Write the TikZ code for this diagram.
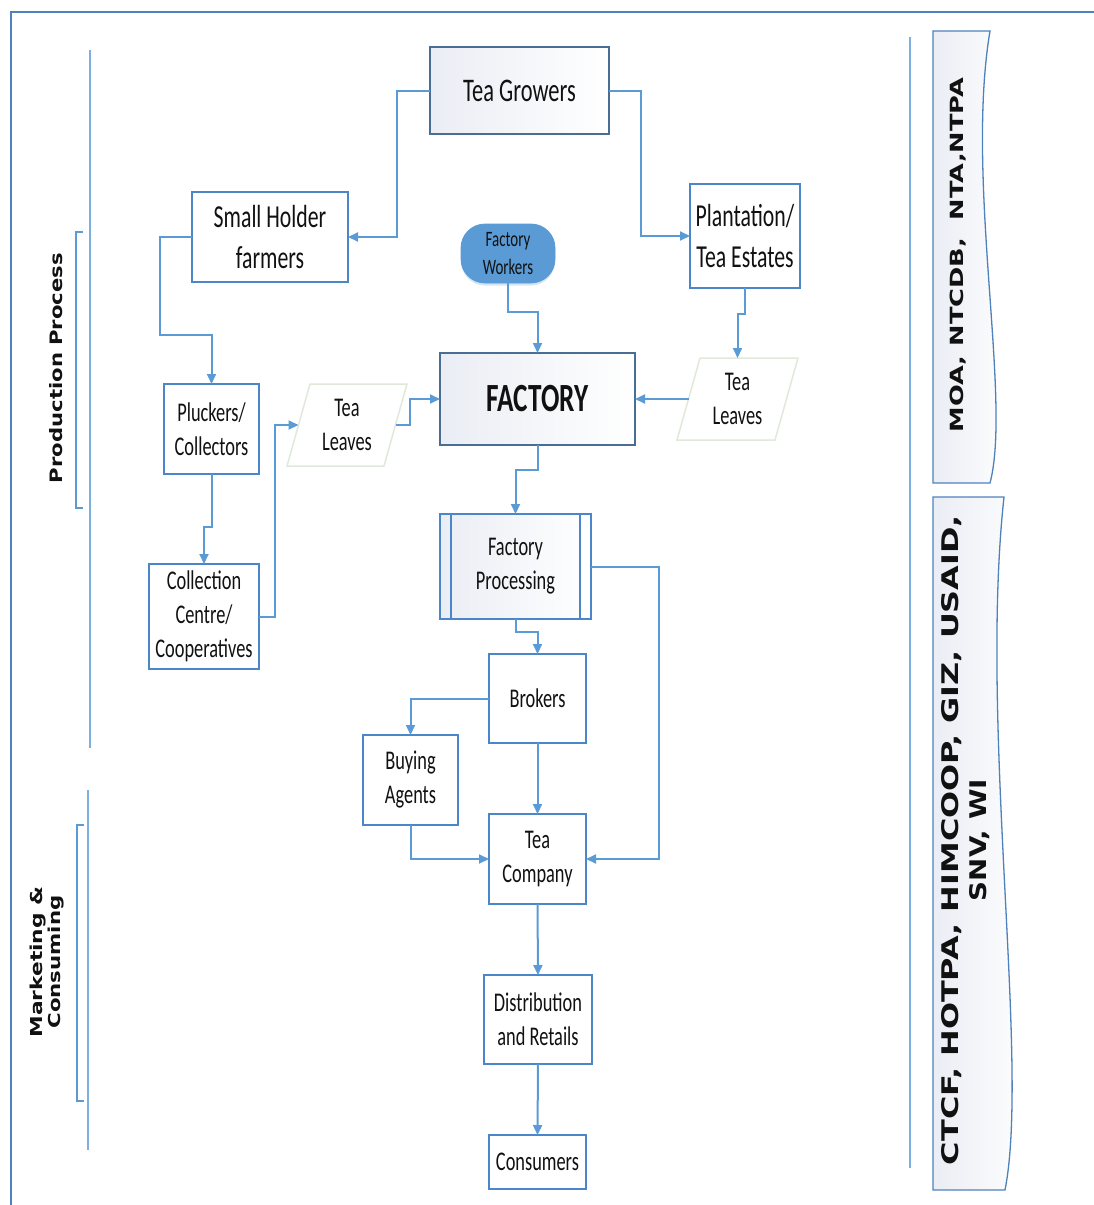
\documentclass[tikz,border=0pt]{standalone}
\usepackage{fontspec}
\usepackage{graphicx}
\setmainfont{Carlito}[FakeStretch=0.68]
\newfontfamily\labfont{DejaVu Sans}
\usetikzlibrary{arrows.meta,calc,shadows}

\definecolor{conn}{HTML}{5B9BD5}
\definecolor{boxblue}{HTML}{4A86C8}
\definecolor{boxdark}{HTML}{4A6D94}
\definecolor{frameblue}{HTML}{4F81BD}
\definecolor{sideblue}{HTML}{7DB0E0}
\definecolor{leafline}{HTML}{E0E9DA}
\definecolor{shadeL}{HTML}{EAEDF4}
\definecolor{txt}{HTML}{111111}
\definecolor{pill}{HTML}{5B9BD5}

\tikzset{
  conn/.style={draw=conn, line width=2pt, -{Triangle[length=10pt,width=9pt]}},
  box/.style={draw=boxblue, line width=2pt, fill=white, inner sep=0pt, outer sep=0pt,
              align=center, text=txt, font=\fontsize{27}{34}\selectfont},
  gbox/.style={box, draw=boxdark, left color=shadeL, right color=white},
  bigbox/.style={box, font=\fontsize{32}{41}\selectfont},
  leafbox/.style={inner sep=0pt, outer sep=0pt, align=center, text=txt,
              font=\fontsize{27}{34}\selectfont},
  leafedge/.style={draw=leafline, line width=1.5pt, fill=white},
  banner/.style={draw=frameblue, line width=1.3pt, left color=shadeL, right color=white},
  sideline/.style={draw=sideblue, line width=2pt},
  bracket/.style={draw=conn, line width=2pt},
  lab/.style={text=txt, inner sep=0pt, rotate=90, align=center}
}

\begin{document}
\begin{tikzpicture}[x=1pt,y=-1pt]
\useasboundingbox (0,0) rectangle (1094,1205);

% outer frame
\draw[draw=frameblue, line width=2.5pt] (11,1205) -- (11,12) -- (1094,12);

% section markers on the left
\draw[sideline] (90,50) -- (90,748);
\draw[sideline] (88,790) -- (88,1150);
\draw[bracket] (83,232) -- (76,232) -- (76,508) -- (83,508);
\draw[bracket] (84,825) -- (77,825) -- (77,1101) -- (84,1101);
\node[lab] (prodlbl) at (56.5,368) {\resizebox{230pt}{13pt}{\labfont\bfseries Production Process}};
\node[lab, font=\fontsize{16}{18}\selectfont] (marklbl) at (47,962)
  {\resizebox{151pt}{12.5pt}{\labfont\bfseries Marketing \&}\\
   \resizebox{133pt}{12.5pt}{\labfont\bfseries Consuming}};

% institutions on the right
\draw[draw=sideblue, line width=1.5pt] (910,37) -- (910,1168);
\draw[banner] (933,31) -- (990,31) .. controls (965,180) and (1012,400) .. (990,483)
  -- (933,483) -- cycle;
\draw[banner] (933,497) -- (1004,497) .. controls (979,726) and (1030,1063) .. (1005,1190)
  -- (933,1190) -- cycle;
\node[lab] (gov) at (958.5,255) {\resizebox{354pt}{13.5pt}{\labfont\bfseries MOA, NTCDB,~~NTA,NTPA}};
\node[lab, font=\fontsize{20}{28}\selectfont] (ngo) at (966,840)
  {\resizebox{650pt}{17pt}{\labfont\bfseries CTCF, HOTPA, HIMCOOP, GIZ, USAID,}\\
   \resizebox{122pt}{17pt}{\labfont\bfseries SNV, WI}};

% production chain
\node[gbox, font=\fontsize{33}{41}\selectfont, minimum width=179pt, minimum height=87pt] (grow) at (519.5,90.5) {Tea Growers};
\node[bigbox, minimum width=156pt, minimum height=90pt] (small) at (270,237) {Small Holder\\farmers};
\node[bigbox, minimum width=110pt, minimum height=104pt] (plant) at (745,236) {Plantation/\\Tea Estates};
\node[box, draw=pill, line width=0.8pt, fill=pill, rounded corners=24pt, minimum width=94pt, minimum height=59pt,
      font=\fontsize{22}{28}\selectfont,
      drop shadow={shadow xshift=0pt, shadow yshift=-2.5pt, opacity=0.25, fill=conn}] (workers) at (508,253.5) {Factory\\Workers};
\node[gbox, font=\fontsize{40}{48}\selectfont\bfseries, minimum width=195pt, minimum height=92pt] (factory) at (537.5,399) {FACTORY};

\node[leafbox, minimum width=120pt, minimum height=82pt] (tl1) at (347,425) {};
\draw[leafedge] (tl1.south west) -- ($(tl1.north west)+(23,0)$) -- (tl1.north east) -- ($(tl1.south east)+(-23,0)$) -- cycle;
\node[leafbox] at (tl1.center) {Tea\\Leaves};
\node[leafbox, minimum width=121pt, minimum height=82pt] (tl2) at (737.5,399) {};
\draw[leafedge] (tl2.south west) -- ($(tl2.north west)+(23,0)$) -- (tl2.north east) -- ($(tl2.south east)+(-23,0)$) -- cycle;
\node[leafbox] at (tl2.center) {Tea\\Leaves};
\coordinate (tl1w) at ($(tl1.west)+(11.5,0)$);
\coordinate (tl1e) at ($(tl1.east)+(-11.5,0)$);
\coordinate (tl2w) at ($(tl2.west)+(11.5,0)$);

\node[box, minimum width=95pt, minimum height=90pt] (pluck) at (211.5,429) {Pluckers/\\Collectors};
\node[box, minimum width=110pt, minimum height=105pt] (coll) at (204,616.5) {Collection\\Centre/\\Cooperatives};

\node[gbox, draw=boxblue, minimum width=151pt, minimum height=105pt] (proc) at (515.5,566.5) {Factory\\Processing};
\draw[draw=boxblue, line width=2pt] ([xshift=11pt]proc.north west) -- ([xshift=11pt]proc.south west);
\draw[draw=boxblue, line width=2pt] ([xshift=-11pt]proc.north east) -- ([xshift=-11pt]proc.south east);

% marketing chain
\node[box, minimum width=97pt, minimum height=89pt] (brok) at (537.5,698.5) {Brokers};
\node[box, minimum width=95pt, minimum height=90pt] (buy) at (410.5,780) {Buying\\Agents};
\node[box, minimum width=97pt, minimum height=90pt] (comp) at (537.5,859) {Tea\\Company};
\node[box, minimum width=108pt, minimum height=89pt] (dist) at (538,1019.5) {Distribution\\and Retails};
\node[box, minimum width=97pt, minimum height=54pt] (cons) at (537.5,1162) {Consumers};

% connectors
\draw[conn] (grow.west) -- ++(-33,0) |- (small.east);
\draw[conn] (grow.east) -- ++(32,0) |- (plant.west);
\draw[conn] (small.west) -- ++(-32,0) -- ++(0,98) -| (pluck.north);
\draw[conn] (pluck.south) -- ++(0,53) -| (coll.north);
\draw[conn] (coll.east) -- ++(16,0) |- (tl1w);
\draw[conn] (tl1e) -- ++(14,0) |- (factory.west);
\draw[conn] (workers.south) -- ++(0,29) -| (factory.north);
\draw[conn] (plant.south) -- ++(0,26) -| (tl2.north);
\draw[conn] (tl2w) -- (factory.east);
\draw[conn] (factory.south) -- ++(0,25) -| (proc.north);
\draw[conn] (proc.south) -- ++(0,13) -| (brok.north);
\draw[conn] (proc.east) -- ++(68,0) |- (comp.east);
\draw[conn] (brok.west) -| (buy.north);
\draw[conn] (brok.south) -- (comp.north);
\draw[conn] (buy.south) |- (comp.west);
\draw[conn] (comp.south) -- (dist.north);
\draw[conn] (dist.south) -- (cons.north);
\end{tikzpicture}
\end{document}
